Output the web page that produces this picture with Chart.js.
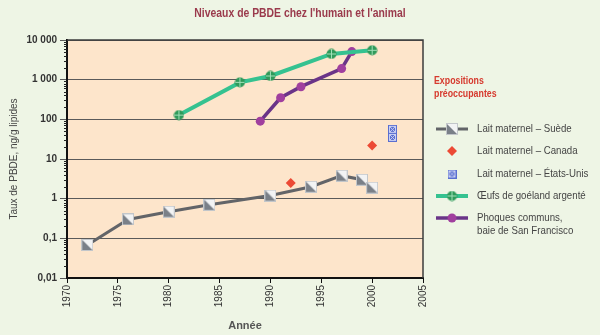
<!DOCTYPE html>
<html>
<head>
<meta charset="utf-8">
<script src="https://cdn.jsdelivr.net/npm/chart.js@4/dist/chart.umd.min.js"></script>
<style>
  html, body { margin: 0; padding: 0; background: #eef5e5; }
  #wrap { position: relative; width: 600px; height: 335px; }
</style>
</head>
<body>
<div id="wrap"><canvas id="myChart" width="600" height="335"></canvas></div>
<script>
// data
const swedenYears = [1972, 1976, 1980, 1984, 1990, 1994, 1997, 1999, 2000];
const swedenValues = [0.068, 0.30, 0.47, 0.70, 1.2, 2.0, 3.8, 3.0, 1.9];
const canadaYears = [1992, 2000];
const canadaValues = [2.5, 22];
const usaYears = [2002, 2002];
const usaValues = [56, 35];
const gullYears = [1981, 1987, 1990, 1996, 2000];
const gullValues = [128, 855, 1240, 4450, 5500];
const sealYears = [1989, 1991, 1993, 1997, 1998];
const sealValues = [90, 350, 665, 1900, 5100];

const yTicks = [0.01, 0.1, 1, 10, 100, 1000, 10000];
const yTickLabels = ['0,01', '0,1', '1', '10', '100', '1 000', '10 000'];
const seriesNames = [
    ['Lait maternel – Suède'],
    ['Lait maternel – Canada'],
    ['Lait maternel – États-Unis'],
    ['Œufs de goéland argenté'],
    ['Phoques communs,', 'baie de San Francisco']
];

const toPoints = (xs, ys) => xs.map((x, i) => ({ x: x, y: ys[i] }));

// little marker images
function marker(w, h, draw) {
    var c = document.createElement('canvas');
    c.width = w; c.height = h;
    draw(c.getContext('2d'));
    return c;
}
var swedeMark = marker(12, 12, function (g) {
    g.fillStyle = '#f2f3f4';
    g.fillRect(0, 0, 12, 12);
    g.fillStyle = '#7a8088';
    g.beginPath(); g.moveTo(1, 1); g.lineTo(11, 11); g.lineTo(1, 11); g.closePath(); g.fill();
    g.strokeStyle = '#c2c6ca'; g.lineWidth = 1;
    g.strokeRect(0.5, 0.5, 11, 11);
});
var usaMark = marker(9, 9, function (g) {
    g.fillStyle = '#5a6fd0';
    g.fillRect(0, 0, 9, 9);
    g.strokeStyle = '#c9d0f2'; g.lineWidth = 1;
    g.beginPath(); g.moveTo(1.5, 1.5); g.lineTo(7.5, 7.5); g.moveTo(7.5, 1.5); g.lineTo(1.5, 7.5); g.stroke();
    g.strokeRect(1.5, 1.5, 6, 6);
});
var gullMark = marker(11, 11, function (g) {
    g.fillStyle = '#2f9a5a';
    g.beginPath(); g.arc(5.5, 5.5, 5, 0, Math.PI * 2); g.fill();
    g.strokeStyle = '#9fe0b8'; g.lineWidth = 1;
    g.beginPath(); g.moveTo(5.5, 1); g.lineTo(5.5, 10); g.moveTo(1, 5.5); g.lineTo(10, 5.5); g.stroke();
});

const font = '"Liberation Sans", sans-serif';

// narrow text: squeeze horizontally
function squeezed(ctx, text, x, y, sx) {
    ctx.save();
    ctx.translate(x, y);
    ctx.scale(sx, 1);
    ctx.fillText(text, 0, 0);
    ctx.restore();
}

// title, legend, minor ticks
const extras = {
    id: 'extras',
    afterDraw(chart) {
        const ctx = chart.ctx;
        const area = chart.chartArea;
        ctx.save();
        ctx.fillStyle = '#9a3a4c';
        ctx.font = 'bold 13px ' + font;
        ctx.textAlign = 'center';
        ctx.textBaseline = 'middle';
        squeezed(ctx, "Niveaux de PBDE chez l'humain et l'animal", 300, 13, 0.8);

        // frame top and right
        ctx.strokeStyle = '#3c3c3c';
        ctx.lineWidth = 1.5;
        ctx.beginPath();
        ctx.moveTo(area.left, area.top); ctx.lineTo(area.right, area.top); ctx.lineTo(area.right, area.bottom);
        ctx.stroke();

        // minor ticks on the y axis
        const y = chart.scales.y;
        ctx.strokeStyle = '#222';
        ctx.lineWidth = 1;
        for (let e = -2; e < 4; e++) {
            for (let k = 2; k < 10; k++) {
                const py = Math.round(y.getPixelForValue(k * Math.pow(10, e))) + 0.5;
                ctx.beginPath(); ctx.moveTo(area.left - 3, py); ctx.lineTo(area.left, py); ctx.stroke();
            }
        }

        // legend
        ctx.textAlign = 'left';
        ctx.fillStyle = '#d63a2e';
        ctx.font = 'bold 11px ' + font;
        squeezed(ctx, 'Expositions', 434, 81, 0.8);
        squeezed(ctx, 'préoccupantes', 434, 94, 0.8);

        const rows = [129, 151, 174, 196, 218];
        ctx.font = '11px ' + font;
        chart.data.datasets.forEach(function (ds, i) {
            const ry = rows[i];
            if (ds.showLine) {
                ctx.strokeStyle = ds.borderColor;
                ctx.lineWidth = ds.borderWidth;
                ctx.beginPath(); ctx.moveTo(436, ry); ctx.lineTo(468, ry); ctx.stroke();
            }
            if (typeof ds.pointStyle === 'string') {
                ctx.fillStyle = ds.pointBackgroundColor;
                ctx.beginPath();
                const r = ds.pointRadius;
                if (ds.pointStyle === 'rectRot') {
                    ctx.moveTo(452, ry - r); ctx.lineTo(452 + r, ry); ctx.lineTo(452, ry + r); ctx.lineTo(452 - r, ry);
                } else {
                    ctx.arc(452, ry, r, 0, Math.PI * 2);
                }
                ctx.fill();
            } else {
                const img = ds.pointStyle;
                ctx.drawImage(img, 452 - img.width / 2, ry - img.height / 2);
            }
            ctx.fillStyle = '#454545';
            seriesNames[i].forEach(function (t, j) {
                squeezed(ctx, t, 477, ry + j * 13, 0.88);
            });
        });
        ctx.restore();
    }
};

var ctx = document.getElementById('myChart').getContext('2d');
var myChart = new Chart(ctx, {
    type: 'scatter',
    data: {
        datasets: [{
            label: seriesNames[0].join(' '),
            data: toPoints(swedenYears, swedenValues),
            showLine: true,
            borderColor: '#626468',
            borderWidth: 3,
            pointStyle: swedeMark,
            pointRadius: 6
        }, {
            label: seriesNames[1].join(' '),
            data: toPoints(canadaYears, canadaValues),
            showLine: false,
            pointStyle: 'rectRot',
            pointRadius: 5,
            pointBackgroundColor: '#ec4a35',
            pointBorderWidth: 0
        }, {
            label: seriesNames[2].join(' '),
            data: toPoints(usaYears, usaValues),
            showLine: false,
            pointStyle: usaMark,
            pointRadius: 5
        }, {
            label: seriesNames[3].join(' '),
            data: toPoints(gullYears, gullValues),
            showLine: true,
            borderColor: '#35c290',
            borderWidth: 4,
            pointStyle: gullMark,
            pointRadius: 5
        }, {
            label: seriesNames[4].join(' '),
            data: toPoints(sealYears, sealValues),
            showLine: true,
            borderColor: '#6a3488',
            borderWidth: 3.5,
            pointStyle: 'circle',
            pointRadius: 4.5,
            pointBackgroundColor: '#a03f9e',
            pointBorderWidth: 0
        }]
    },
    options: {
        responsive: false,
        animation: false,
        layout: { padding: { top: 40, right: 177, left: 0, bottom: 0 } },
        plugins: {
            legend: { display: false },
            tooltip: { enabled: false }
        },
        scales: {
            x: {
                type: 'linear',
                min: 1970,
                max: 2005,
                border: { color: '#111', width: 2 },
                grid: { drawOnChartArea: false, color: '#111', tickLength: 5 },
                ticks: {
                    stepSize: 5,
                    minRotation: 90,
                    maxRotation: 90,
                    color: '#333',
                    font: { family: font, size: 10 },
                    padding: 2,
                    callback: v => String(v)
                },
                title: {
                    display: true,
                    text: 'Année',
                    color: '#555',
                    font: { family: font, size: 11, weight: 'bold' },
                    padding: { top: 6, bottom: 2 }
                },
                afterFit: s => { s.height = 57; }
            },
            y: {
                type: 'logarithmic',
                min: 0.01,
                max: 10000,
                border: { color: '#111', width: 2 },
                grid: { color: '#5a5a5a', lineWidth: 1, tickLength: 7 },
                afterBuildTicks: s => { s.ticks = yTicks.map(v => ({ value: v })); },
                ticks: {
                    autoSkip: false,
                    color: '#333',
                    font: { family: font, size: 10, weight: 'bold' },
                    padding: 3,
                    callback: (v, i) => yTickLabels[i]
                },
                title: {
                    display: true,
                    text: 'Taux de PBDE, ng/g lipides',
                    color: '#444',
                    font: { family: font, size: 10 },
                    padding: { top: 8, bottom: 4 }
                },
                afterFit: s => { s.width = 67; }
            }
        }
    },
    plugins: [{
        id: 'plotBg',
        beforeDraw(chart) {
            const a = chart.chartArea;
            chart.ctx.save();
            chart.ctx.fillStyle = '#fde5cb';
            chart.ctx.fillRect(a.left, a.top, a.right - a.left, a.bottom - a.top);
            chart.ctx.restore();
        }
    }, extras]
});
</script>
</body>
</html>
